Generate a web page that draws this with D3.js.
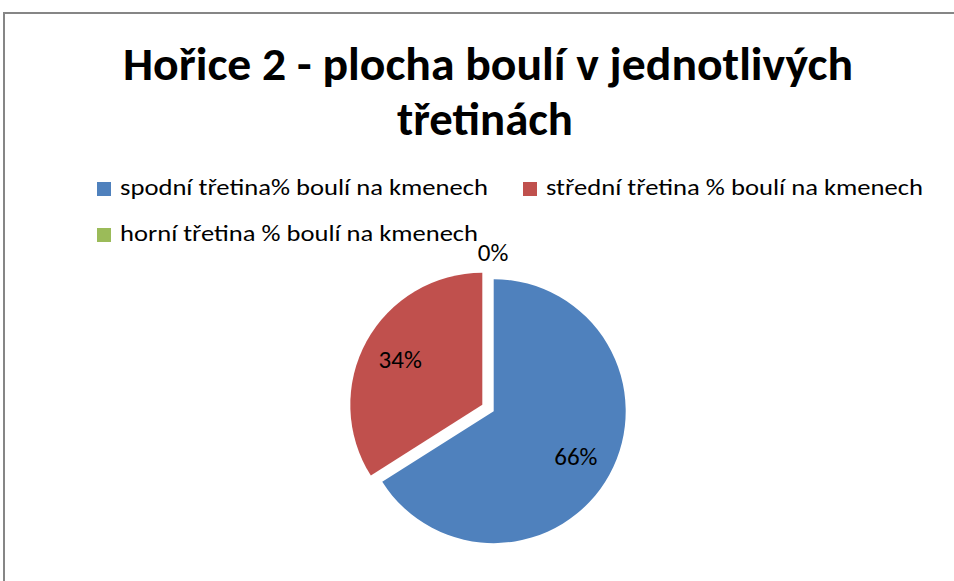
<!DOCTYPE html>
<html>
<head>
<meta charset="utf-8">
<script src="https://cdn.jsdelivr.net/npm/d3@7"></script>
<style>
  body { margin: 0; background: #fff; }
  svg { display: block; }
  text { font-family: Calibri, Carlito, "Open Sans", "Noto Sans", sans-serif; fill: #000; }
</style>
</head>
<body>
<script>
(function () {
  'use strict';

  // data
  const titleLines = ["Hořice 2 - plocha boulí v jednotlivých", "třetinách"];
  const categories = [
    "spodní třetina% boulí na kmenech",
    "střední třetina % boulí na kmenech",
    "horní třetina % boulí na kmenech"
  ];
  const values = [66, 34, 0];
  const colors = ["#4F81BD", "#C0504D", "#9BBB59"];

  const width = 954, height = 581;
  const cx = 488, cy = 408, radius = 132, explode = 6.5;

  const svg = d3.select("body").append("svg")
      .attr("width", width)
      .attr("height", height);

  // chart border (only top and left visible in the crop)
  svg.append("rect")
      .attr("x", 4).attr("y", 13)
      .attr("width", 1000).attr("height", 1000)
      .attr("fill", "none")
      .attr("stroke", "#868686")
      .attr("stroke-width", 2);

  // title
  const titleWidths = [730, 176];
  svg.append("g").selectAll("text")
    .data(titleLines)
    .enter().append("text")
      .attr("x", (d, i) => i ? 485 : 488)
      .attr("y", (d, i) => 80 + i * 55)
      .attr("text-anchor", "middle")
      .attr("font-size", 47)
      .attr("font-weight", "bold")
      .attr("textLength", (d, i) => titleWidths[i])
      .attr("lengthAdjust", "spacingAndGlyphs")
      .text(d => d);

  // legend
  const legendPos = [[97, 182], [523, 182], [97, 228]];
  const legendWidths = [368, 377, 358];
  const legend = svg.append("g").selectAll("g")
    .data(categories)
    .enter().append("g")
      .attr("transform", (d, i) => "translate(" + legendPos[i][0] + "," + legendPos[i][1] + ")");

  legend.append("rect")
      .attr("width", 14).attr("height", 14)
      .attr("fill", (d, i) => colors[i]);

  legend.append("text")
      .attr("x", 23)
      .attr("y", 12.5)
      .attr("font-size", 22)
      .attr("textLength", (d, i) => legendWidths[i])
      .attr("lengthAdjust", "spacingAndGlyphs")
      .text(d => d);

  // pie
  const pie = d3.pie().sort(null).value(d => d);
  const arcs = pie(values);
  const arc = d3.arc().innerRadius(0).outerRadius(radius);

  function offset(d, dist) {
    const a = (d.startAngle + d.endAngle) / 2;
    return [Math.sin(a) * dist, -Math.cos(a) * dist];
  }

  const slices = svg.append("g")
      .attr("transform", "translate(" + cx + "," + cy + ")");

  slices.selectAll("path")
    .data(arcs)
    .enter().append("path")
      .attr("transform", d => { const o = offset(d, explode); return "translate(" + o[0] + "," + o[1] + ")"; })
      .attr("d", arc)
      .attr("fill", (d, i) => colors[i]);

  slices.selectAll("text")
    .data(arcs)
    .enter().append("text")
      .attr("transform", d => {
        const o0 = offset(d, explode);
        const o1 = d.value > 0 ? offset(d, radius * 0.71) : offset(d, radius + 17);
        return "translate(" + (o0[0] + o1[0] + (d.value > 0 ? 0 : 5)) + "," + (o0[1] + o1[1]) + ")";
      })
      .attr("text-anchor", "middle")
      .attr("dy", "0.35em")
      .attr("font-size", 25)
      .text(d => d.value + "%");
}());
</script>
</body>
</html>
